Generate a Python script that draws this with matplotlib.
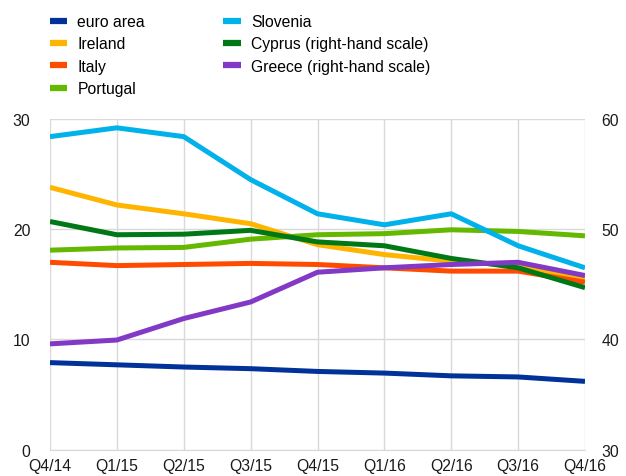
import matplotlib.pyplot as plt
from matplotlib.lines import Line2D

plt.rcParams['font.family'] = ['Liberation Sans', 'DejaVu Sans']

quarters = ['Q4/14', 'Q1/15', 'Q2/15', 'Q3/15', 'Q4/15', 'Q1/16', 'Q2/16', 'Q3/16', 'Q4/16']

# left-hand scale
euro_area = [7.9, 7.7, 7.5, 7.35, 7.1, 6.95, 6.7, 6.6, 6.2]
ireland   = [23.8, 22.2, 21.4, 20.5, 18.6, 17.7, 17.1, 16.7, 15.5]
italy     = [17.0, 16.7, 16.8, 16.9, 16.8, 16.5, 16.2, 16.2, 15.2]
portugal  = [18.1, 18.3, 18.35, 19.1, 19.5, 19.6, 19.95, 19.8, 19.4]
slovenia  = [28.4, 29.2, 28.4, 24.5, 21.4, 20.4, 21.4, 18.5, 16.5]
# right-hand scale
cyprus    = [50.7, 49.5, 49.55, 49.9, 48.85, 48.5, 47.35, 46.5, 44.7]
greece    = [39.6, 39.95, 41.9, 43.4, 46.1, 46.5, 46.8, 47.0, 45.8]

left_series = [
    ('euro area', euro_area, '#003299'),
    ('Ireland', ireland, '#FFB400'),
    ('Italy', italy, '#FF4B00'),
    ('Portugal', portugal, '#65B800'),
    ('Slovenia', slovenia, '#00B1EA'),
]
right_series = [
    ('Cyprus (right-hand scale)', cyprus, '#007816'),
    ('Greece (right-hand scale)', greece, '#8139C6'),
]

fig = plt.figure(figsize=(6.26, 4.77), dpi=100)
ax = fig.add_axes([50 / 626, 1 - 450.7 / 477, 535 / 626, 330.7 / 477])
ax2 = ax.twinx()

x = list(range(len(quarters)))
lw = 3.6
for name, vals, col in left_series:
    ax.plot(x, vals, color=col, lw=lw, solid_capstyle='butt')
for name, vals, col in right_series:
    ax2.plot(x, vals, color=col, lw=lw, solid_capstyle='butt')

ax.set_xlim(0, len(quarters) - 1)
ax.set_ylim(0, 30)
ax2.set_ylim(30, 60)
ax.set_yticks([0, 10, 20, 30])
ax2.set_yticks([30, 40, 50, 60])
ax.set_xticks(x)
ax.set_xticklabels(quarters)

ax.grid(True, color='#d9d9d9', lw=1)
ax.set_axisbelow(True)
for a in (ax, ax2):
    for s in a.spines.values():
        s.set_visible(False)
    a.tick_params(length=0, labelsize=11.3, colors='#1a1a1a')
ax.spines['bottom'].set_visible(True)
ax.spines['bottom'].set_color('#d9d9d9')
ax.tick_params(axis='y', pad=14)
ax2.tick_params(axis='y', pad=12)
ax.tick_params(axis='x', pad=6)

handles = [Line2D([], [], color=c, lw=4.5, solid_capstyle='butt') for _, _, c in left_series + right_series]
labels = [n for n, _, _ in left_series + right_series]
fig.legend(handles, labels, ncol=2, loc='upper left', bbox_to_anchor=(0.057, 0.998),
           frameon=False, fontsize=11.3, handlelength=1.1, handletextpad=0.65,
           columnspacing=5.0, labelspacing=0.47)

plt.savefig('out.png', dpi=100)
